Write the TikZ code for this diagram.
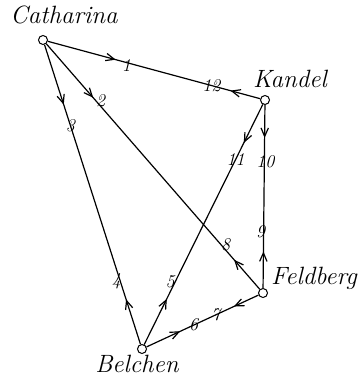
\documentclass[tikz,border=0pt]{standalone}
\usepackage{fontspec}
\usepackage{tikz}
\usetikzlibrary{arrows.meta,decorations.markings}

\begin{document}
\begin{tikzpicture}[
  x=1pt,y=-1pt,
  peak/.style={draw,circle,inner sep=0pt,minimum size=9pt,fill=white,line width=1pt},
  place/.style={font=\fontsize{25}{29}\selectfont\itshape,inner sep=0.5pt},
  num/.style={font=\fontsize{18}{20}\selectfont\itshape,inner sep=1pt},
  tour/.style 2 args={line width=1.2pt,postaction={decorate,decoration={markings,
    mark=at position #1 with {\arrow{Straight Barb[length=3mm,width=2.6mm]}},
    mark=at position #2 with {\arrowreversed{Straight Barb[length=3mm,width=2.6mm]}}}}}
]
\useasboundingbox (0,0) rectangle (358,377);
\node[peak] (cath) at (43,40) {};
\node[peak] (kand) at (265,100) {};
\node[peak] (feld) at (263,293) {};
\node[peak] (belch) at (142,349) {};
\node[place] (cathname) at (64,15) {Catharina};
\node[place] (kandname) at (290,79) {Kandel};
\node[place] (feldname) at (314,278) {Feldberg};
\node[place] (belchname) at (137,364) {Belchen};
\draw[tour={0.32}{0.86}] (cath) -- node[num,pos=.37,yshift=-3pt]{1} node[num,pos=.77]{12} (kand);
\draw[tour={0.22}{0.88}] (cath) -- node[num,pos=.25,xshift=1pt,yshift=4pt]{2} node[num,pos=.84,yshift=5pt]{8} (feld);
\draw[tour={0.20}{0.85}] (cath) -- node[num,pos=.27]{3} node[num,pos=.79,xshift=-4pt]{4} (belch);
\draw[tour={0.19}{0.84}] (belch) -- node[num,pos=.26,xshift=-5pt]{5} node[num,pos=.77]{11} (kand);
\draw[tour={0.30}{0.78}] (belch) -- node[num,pos=.42]{6} node[num,pos=.62]{7} (feld);
\draw[tour={0.20}{0.82}] (feld) -- node[num,pos=.31,xshift=-3pt]{9} node[num,pos=.69,xshift=1pt]{10} (kand);
\end{tikzpicture}
\end{document}
